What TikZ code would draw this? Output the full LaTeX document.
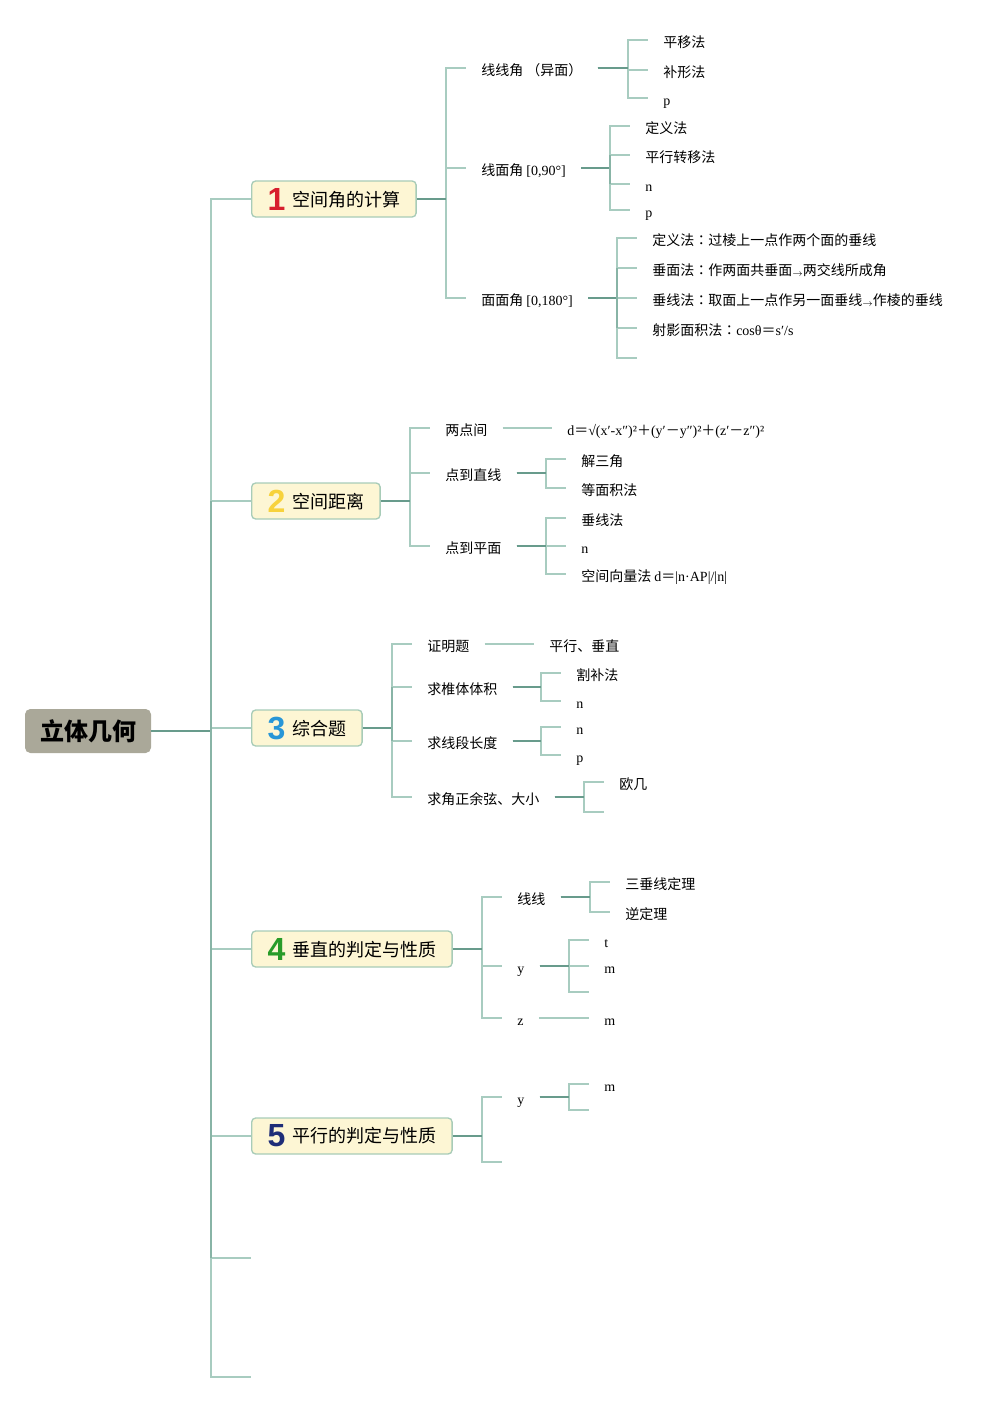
\documentclass[tikz,border=0pt]{standalone}
\usepackage{fontspec}
\usepackage{tikz}
\usetikzlibrary{positioning,calc}
\setmainfont{Liberation Serif}
\newfontfamily\cjk{Noto Sans CJK SC}
\newfontfamily\cjktc{Noto Sans CJK TC}
\newfontfamily\numfont{Liberation Sans}
\definecolor{twigc}{RGB}{168,204,192}
\definecolor{stemc}{RGB}{104,155,140}
\definecolor{spinec}{RGB}{136,180,166}
\definecolor{boxline}{RGB}{168,204,184}
\definecolor{boxfill}{RGB}{253,246,212}
\definecolor{rootfill}{RGB}{170,168,153}
\definecolor{numA}{RGB}{215,30,45}
\definecolor{numB}{RGB}{247,210,60}
\definecolor{numC}{RGB}{40,150,215}
\definecolor{numD}{RGB}{40,155,40}
\definecolor{numE}{RGB}{30,45,120}
\newcommand\lat[1]{{\rmfamily #1}}
\newcommand\arr{\raisebox{-1pt}{\scriptsize$\rightarrow$}}
\newcommand\colo{{\cjktc ：}}
\newcommand\num[2]{\raisebox{-3pt}{\numfont\bfseries\fontsize{24}{24}\selectfont\color{#1}#2}\hspace{5pt}}
% parent -> children, bracket at a fixed gap before the children
\newcommand\branch[3][15pt]{%
	\foreach \c in {#3}{\draw[twig] (#2.east) -| ([xshift=-#1]\c.west) coordinate (bk) -- (\c.west);}%
	\draw[stem] (#2.east) -- (#2.east -| bk);
}
\tikzset{%
	twig/.style     = {draw=twigc, line width=1.4pt},
	stem/.style     = {draw=stemc, line width=1.4pt},
	spine/.style    = {draw=spinec, line width=1.4pt},
	leaf/.style     = {anchor=west, inner xsep=11.25pt, inner ysep=2pt, text height=12.5pt, text depth=1.5pt, font=\cjk\fontsize{10.5}{12}\selectfont},
	topicbox/.style = {anchor=west, draw=boxline, fill=boxfill, line width=1pt, rounded corners=3pt, minimum height=27pt, inner xsep=12pt, font=\cjk\fontsize{13.5}{16}\selectfont},
	rootbox/.style  = {fill=rootfill, rounded corners=4pt, minimum width=94.5pt, minimum height=33pt, font=\cjk\bfseries\fontsize{18}{20}\selectfont},
}
\begin{document}
\begin{tikzpicture}[x=0.75pt,y=-0.75pt]
	\useasboundingbox (0,0) rectangle (1006,1402);
	% root and main topics
	\node[rootbox] (root) at (88,731) {立体几何};
	\node[topicbox] (t1) at (251,199) {\num{numA}{1}空间角的计算};
	\node[topicbox] (t2) at (251,501) {\num{numB}{2}空间距离};
	\node[topicbox] (t3) at (251,728) {\num{numC}{3}综合题};
	\node[topicbox] (t4) at (251,949) {\num{numD}{4}垂直的判定与性质};
	\node[topicbox] (t5) at (251,1136) {\num{numE}{5}平行的判定与性质};
	\node[leaf] (t6) at (251,1258) {};
	\node[leaf] (t7) at (251,1377) {};
	% 1
	\node[leaf] (a1) at (466,68) {线线角 （异面）};
	\node[leaf] (a2) at (466,168) {线面角 \lat{[0,90°]}};
	\node[leaf] (a3) at (466,298) {面面角 \lat{[0,180°]}};
	\node[leaf] (a11) at (648,40) {平移法};
	\node[leaf] (a12) at (648,70) {补形法};
	\node[leaf] (a13) at (648,98) {\lat{p}};
	\node[leaf] (a21) at (630,126) {定义法};
	\node[leaf] (a22) at (630,155) {平行转移法};
	\node[leaf] (a23) at (630,184) {\lat{n}};
	\node[leaf] (a24) at (630,210) {\lat{p}};
	\node[leaf] (a31) at (637,238) {定义法\colo 过棱上一点作两个面的垂线};
	\node[leaf] (a32) at (637,268) {垂面法\colo 作两面共垂面\arr 两交线所成角};
	\node[leaf] (a33) at (637,298) {垂线法\colo 取面上一点作另一面垂线\arr 作棱的垂线};
	\node[leaf] (a34) at (637,328) {射影面积法\colo\lat{cosθ}＝\lat{s′/s}};
	\node[leaf] (a35) at (637,358) {};
	% 2
	\node[leaf] (b1) at (430,428) {两点间};
	\node[leaf] (b2) at (430,473) {点到直线};
	\node[leaf] (b3) at (430,546) {点到平面};
	\node[leaf] (b11) at (552,428) {\lat{d}＝\lat{√(x′-x″)²}＋\lat{(y′}－\lat{y″)²}＋\lat{(z′}－\lat{z″)²}};
	\node[leaf] (b21) at (566,459) {解三角};
	\node[leaf] (b22) at (566,488) {等面积法};
	\node[leaf] (b31) at (566,518) {垂线法};
	\node[leaf] (b32) at (566,546) {\lat{n}};
	\node[leaf] (b33) at (566,574) {空间向量法 \lat{d}＝\lat{|n·AP|/|n|}};
	% 3
	\node[leaf] (c1) at (412,644) {证明题};
	\node[leaf] (c2) at (412,687) {求椎体体积};
	\node[leaf] (c3) at (412,741) {求线段长度};
	\node[leaf] (c4) at (412,797) {求角正余弦、大小};
	\node[leaf] (c11) at (534,644) {平行、垂直};
	\node[leaf] (c21) at (561,673) {割补法};
	\node[leaf] (c22) at (561,701) {\lat{n}};
	\node[leaf] (c31) at (561,727) {\lat{n}};
	\node[leaf] (c32) at (561,755) {\lat{p}};
	\node[leaf] (c41) at (604,782) {欧几};
	\node[leaf] (c42) at (604,812) {};
	% 4
	\node[leaf] (d1) at (502,897) {线线};
	\node[leaf] (d2) at (502,966) {\lat{y}};
	\node[leaf] (d3) at (502,1018) {\lat{z}};
	\node[leaf] (d11) at (610,882) {三垂线定理};
	\node[leaf] (d12) at (610,912) {逆定理};
	\node[leaf] (d21) at (589,940) {\lat{t}};
	\node[leaf] (d22) at (589,966) {\lat{m}};
	\node[leaf] (d23) at (589,992) {};
	\node[leaf] (d31) at (589,1018) {\lat{m}};
	% 5
	\node[leaf] (e1) at (502,1097) {\lat{y}};
	\node[leaf] (e2) at (502,1162) {};
	\node[leaf] (e11) at (589,1084) {\lat{m}};
	\node[leaf] (e12) at (589,1110) {};
	% connectors
	\branch[30pt]{root}{t1,t2,t3,t4,t5,t6,t7}
	\draw[spine] ([xshift=-30pt]t2.west) -- ([xshift=-30pt]t6.west);
	\branch{t1}{a1,a2,a3}
	\branch{a1}{a11,a12,a13}
	\branch{a2}{a21,a22,a23,a24}
	\draw[spine] ([xshift=-15pt]a22.west) -- ([xshift=-15pt]a23.west);
	\branch{a3}{a31,a32,a33,a34,a35}
	\draw[spine] ([xshift=-15pt]a32.west) -- ([xshift=-15pt]a34.west);
	\branch{t2}{b1,b2,b3}
	\draw[twig] (b1.east) -- (b11.west);
	\branch{b2}{b21,b22}
	\branch{b3}{b31,b32,b33}
	\branch{t3}{c1,c2,c3,c4}
	\draw[spine] ([xshift=-15pt]c2.west) -- ([xshift=-15pt]c3.west);
	\draw[twig] (c1.east) -- (c11.west);
	\branch{c2}{c21,c22}
	\branch{c3}{c31,c32}
	\branch{c4}{c41,c42}
	\branch{t4}{d1,d2,d3}
	\branch{d1}{d11,d12}
	\branch{d2}{d21,d22,d23}
	\draw[twig] (d3.east) -- (d31.west);
	\branch{t5}{e1,e2}
	\branch{e1}{e11,e12}
\end{tikzpicture}
\end{document}
